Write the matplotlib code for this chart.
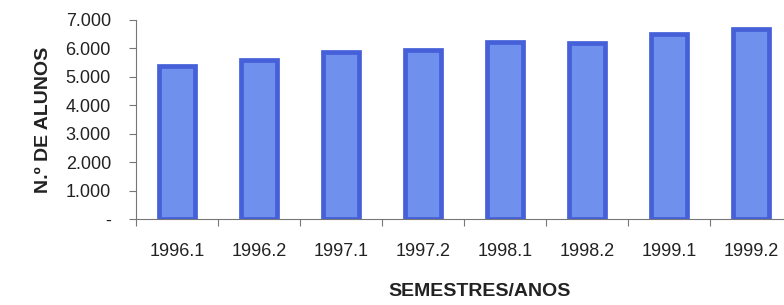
import numpy as np
from matplotlib import pyplot as plt
from matplotlib.ticker import FuncFormatter

semestres = ['1996.1', '1996.2', '1997.1', '1997.2', '1998.1', '1998.2', '1999.1', '1999.2']
alunos = [5390, 5600, 5870, 5950, 6240, 6190, 6510, 6680]

plt.rcParams['font.family'] = ['Liberation Sans', 'DejaVu Sans']

fig = plt.figure(figsize=(7.84, 3.05), dpi=100)
# right edge of the plot area runs past the picture, as in the original
ax = fig.add_axes([136 / 784, 86 / 305, 656 / 784, 199 / 305])

x = np.arange(len(semestres))
ax.bar(x, alunos, width=0.43, color='#7090ee', edgecolor='#4560d8', linewidth=3.4)

ax.set_xlim(-0.5, len(semestres) - 0.5)
ax.set_ylim(0, 7000)
ax.set_yticks(np.arange(0, 7001, 1000))
ax.yaxis.set_major_formatter(FuncFormatter(
    lambda v, p: '-' if v == 0 else f'{int(v):,}'.replace(',', '.')))

ax.set_xticks(x)
ax.set_xticklabels(semestres)
ax.set_xticks(np.arange(-0.5, len(semestres), 1), minor=True)
ax.tick_params(axis='x', which='major', length=0, pad=17, labelsize=13, colors='#222222')
ax.tick_params(axis='x', which='minor', length=5, width=0.8, color='#777777')
ax.tick_params(axis='y', length=5, width=0.8, color='#777777', pad=13, labelsize=13,
               labelcolor='#222222')

for s in ['top', 'right']:
    ax.spines[s].set_visible(False)
for s in ['left', 'bottom']:
    ax.spines[s].set_color('#777777')
    ax.spines[s].set_linewidth(0.8)

ax.set_ylabel('N.º DE ALUNOS', fontsize=14, fontweight='bold', color='#222222', labelpad=10)
fig.text(480 / 784, 1 - 292 / 305, 'SEMESTRES/ANOS', fontsize=14, fontweight='bold',
         color='#222222', ha='center', va='center')

fig.savefig('out.png', dpi=100)
